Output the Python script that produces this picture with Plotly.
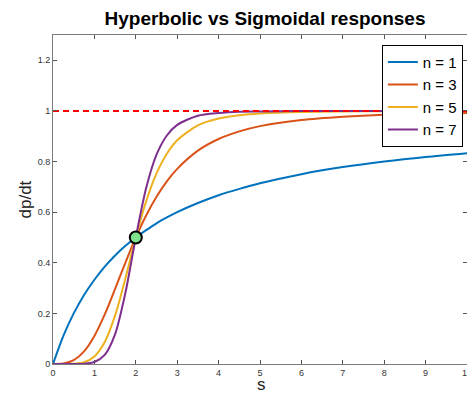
import plotly.graph_objects as go

s_vals = [0, 0.25, 0.5, 0.75, 1, 1.25, 1.5, 1.75, 2, 2.25, 2.5, 2.75, 3, 3.5, 4, 4.5, 5, 6, 7, 8, 9, 10]
n1 = [0, 0.111, 0.2, 0.273, 0.333, 0.385, 0.429, 0.467, 0.5, 0.529, 0.556, 0.579, 0.6, 0.636, 0.667, 0.692, 0.714, 0.75, 0.778, 0.8, 0.818, 0.833]
n3 = [0, 0.002, 0.015, 0.05, 0.111, 0.196, 0.297, 0.401, 0.5, 0.587, 0.661, 0.722, 0.771, 0.843, 0.889, 0.919, 0.94, 0.964, 0.977, 0.985, 0.989, 0.992]
n5 = [0, 0.0, 0.001, 0.007, 0.03, 0.087, 0.192, 0.339, 0.5, 0.643, 0.753, 0.831, 0.884, 0.943, 0.97, 0.983, 0.99, 0.996, 0.998, 0.999, 0.9995, 0.9997]
n7 = [0, 0.0, 0.0, 0.001, 0.008, 0.036, 0.118, 0.282, 0.5, 0.695, 0.827, 0.903, 0.945, 0.981, 0.992, 0.997, 0.998, 0.9995, 0.9999, 1.0, 1.0, 1.0]
series = [("n = 1", n1, "#0072BD"), ("n = 3", n3, "#D95319"),
          ("n = 5", n5, "#EDB120"), ("n = 7", n7, "#7E2F8E")]
vmax_x = [0, 10]
vmax_y = [1, 1]
half_point = ([2], [0.5])

x_ticks = [0, 1, 2, 3, 4, 5, 6, 7, 8, 9, 10]
y_ticks = [0, 0.2, 0.4, 0.6, 0.8, 1, 1.2]
y_tick_text = ["0", "0.2", "0.4", "0.6", "0.8", "1", "1.2"]

FONT = "Liberation Sans, Arial, Helvetica, sans-serif"

fig = go.Figure()
for name, ys, col in series:
    fig.add_trace(go.Scatter(x=s_vals, y=ys, mode="lines", name=name,
                             line=dict(color=col, width=2, shape="spline", smoothing=0.8)))
fig.add_trace(go.Scatter(x=vmax_x, y=vmax_y, mode="lines", showlegend=False,
                         line=dict(color="#FF0000", width=2, dash="6px,4px")))
fig.add_trace(go.Scatter(x=half_point[0], y=half_point[1], mode="markers", showlegend=False,
                         marker=dict(size=12, color="#7fe58c", line=dict(color="black", width=2))))

axis_common = dict(showgrid=False, zeroline=False, showline=True, linecolor="#7a7a7a", linewidth=1,
                   mirror="ticks", ticks="inside", ticklen=4, tickcolor="#555555", tickwidth=1,
                   ticklabeloverflow="allow", automargin=False,
                   tickfont=dict(family=FONT, size=9, color="#333333"))

fig.update_xaxes(range=[0, 10], tickvals=x_ticks, ticktext=[str(t) for t in x_ticks], **axis_common)
fig.update_yaxes(range=[0, 1.3], tickvals=y_ticks, ticktext=y_tick_text, **axis_common)

fig.add_annotation(text="dp/dt", textangle=-90, xref="paper", yref="paper",
                   x=(25 - 53) / 414, y=0.5, xanchor="center", yanchor="middle", showarrow=False,
                   font=dict(family=FONT, size=17, color="#222222"))
fig.add_annotation(text="s", xref="paper", yref="paper",
                   x=(261 - 53) / 414, y=(364 - 373) / 329, xanchor="center", yanchor="top",
                   showarrow=False, font=dict(family=FONT, size=17, color="#222222"))

fig.update_layout(
    width=467, height=394,
    margin=dict(l=53, r=0, t=35, b=30),
    plot_bgcolor="white", paper_bgcolor="white",
    title=dict(text="<b>Hyperbolic vs Sigmoidal responses</b>", x=(265 - 53) / 414, xref="paper",
               xanchor="center", y=1 - 18 / 394, yanchor="middle", yref="container",
               font=dict(family=FONT, size=19, color="black")),
    legend=dict(x=0.99, xanchor="right", y=0.97, yanchor="top", bgcolor="white",
                bordercolor="black", borderwidth=1, itemwidth=30,
                font=dict(family=FONT, size=15, color="black"),
                tracegroupgap=0),
    showlegend=True,
)

fig.write_html("out.html")
